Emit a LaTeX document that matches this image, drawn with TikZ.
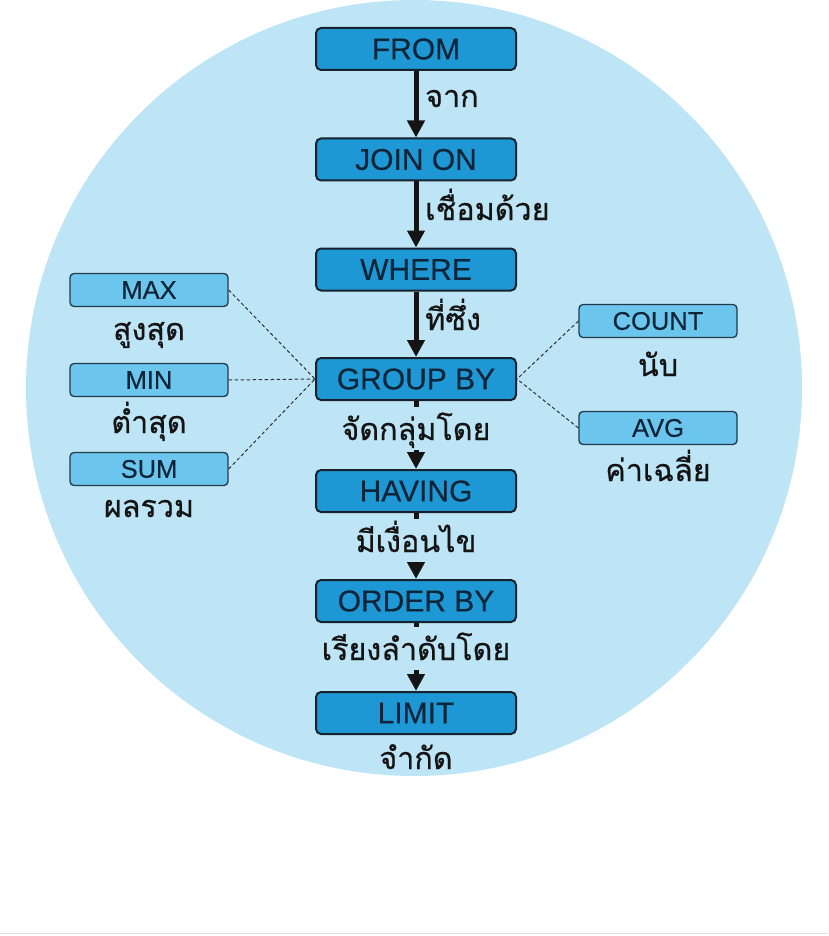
\documentclass[tikz,border=0pt]{standalone}
\usepackage{fontspec}
\setmainfont{Liberation Sans}
\newfontfamily\boxfont[FakeBold=0.35]{Liberation Sans}
\newfontfamily\thai[Script=Thai,FakeBold=0.6]{Loma}
\usetikzlibrary{arrows.meta}
\definecolor{circ}{HTML}{BEE5F6}
\definecolor{mainblue}{HTML}{1E98D4}
\definecolor{sideblue}{HTML}{6CC5EC}
\definecolor{navy}{HTML}{0E2438}
\definecolor{edge}{HTML}{16222E}
\pgfdeclareradialshading{softdisc}{\pgfpoint{0bp}{0bp}}{color(0bp)=(circ); color(47bp)=(circ); color(50bp)=(white)}
\tikzset{
  mainbox/.style={draw=edge, line width=2pt, fill=mainblue, rounded corners=5pt,
    minimum width=200pt, minimum height=42pt, inner sep=0pt, text=navy,
    font=\boxfont\fontsize{30}{30}\selectfont},
  sidebox/.style={draw=edge!85!sideblue, line width=1.3pt, fill=sideblue, rounded corners=4pt,
    minimum width=158pt, minimum height=33pt, inner sep=0pt, text=navy,
    font=\boxfont\fontsize{25.5}{25.5}\selectfont},
  thlabel/.style={inner sep=0pt, text=black!92, font=\thai\fontsize{30.5}{30.5}\selectfont},
  steplabel/.style={thlabel, anchor=base, text height=33pt, text depth=10pt},
  flow/.style={line width=5pt, black!92, -{Triangle[length=17pt,width=17pt]}},
  stub/.style={line width=5pt, black!92},
  dashline/.style={line width=1pt, black!80, dash pattern=on 3.5pt off 2.5pt},
}
\begin{document}
\begin{tikzpicture}[x=1pt,y=-1pt]
\useasboundingbox (0,0) rectangle (828,936);
\fill[white] (0,0) rectangle (828,936);
\shade[shading=softdisc] (414,388) circle[radius=388];
\draw[gray!25, line width=1.5pt] (0,933.5) -- (828,933.5);

% main boxes
\node[mainbox] (from)  at (416,49)    {FROM};
\node[mainbox] (join)  at (416,159.5) {JOIN ON};
\node[mainbox] (where) at (416,269.5) {WHERE};
\node[mainbox] (group) at (416,379)   {GROUP BY};
\node[mainbox] (having) at (416,491)  {HAVING};
\node[mainbox] (order) at (416,601)   {ORDER BY};
\node[mainbox] (limit) at (416,713)   {LIMIT};

% top arrows with side labels
\draw[flow] (from) -- (join);
\node[thlabel, anchor=base west] (l1) at (425,107) {จาก};
\draw[flow] (join) -- (where);
\node[thlabel, anchor=base west] (l2) at (425,220) {เชื่อมด้วย};
\draw[flow] (where) -- (group);
\node[thlabel, anchor=base west] (l3) at (425,330) {ที่ซึ่ง};

% lower arrows broken by labels
\node[steplabel] (l4) at (416,440) {จัดกลุ่มโดย};
\draw[stub] (group.south) -- (l4.north);
\draw[flow] (l4.south) -- (having.north);
\node[steplabel] (l5) at (416,552) {มีเงื่อนไข};
\draw[stub] (having.south) -- (l5.north);
\draw[flow] (l5.south) -- (order.north);
\node[steplabel] (l6) at (416,660) {เรียงลำดับโดย};
\draw[stub] (order.south) -- (l6.north);
\draw[flow] (l6.south) -- (limit.north);
\node[thlabel, anchor=base] (l7) at (416,769) {จำกัด};

% side boxes
\node[sidebox] (max)   at (149,290)   {MAX};
\node[sidebox] (min)   at (149,380)   {MIN};
\node[sidebox] (sum)   at (149,469)   {SUM};
\node[sidebox] (count) at (658,321)   {COUNT};
\node[sidebox] (avg)   at (658,428)   {AVG};
\node[thlabel, anchor=base] (lmax) at (149,340) {สูงสุด};
\node[thlabel, anchor=base] (lmin) at (149,433) {ต่ำสุด};
\node[thlabel, anchor=base] (lsum) at (149,517) {ผลรวม};
\node[thlabel, anchor=base] (lcount) at (658,376) {นับ};
\node[thlabel, anchor=base] (lavg) at (658,481) {ค่าเฉลี่ย};

% dashed links
\draw[dashline] (max.east) -- (group.west);
\draw[dashline] (min.east) -- (group.west);
\draw[dashline] (sum.east) -- (group.west);
\draw[dashline] (count.west) -- (group.east);
\draw[dashline] (avg.west) -- (group.east);
\end{tikzpicture}
\end{document}
